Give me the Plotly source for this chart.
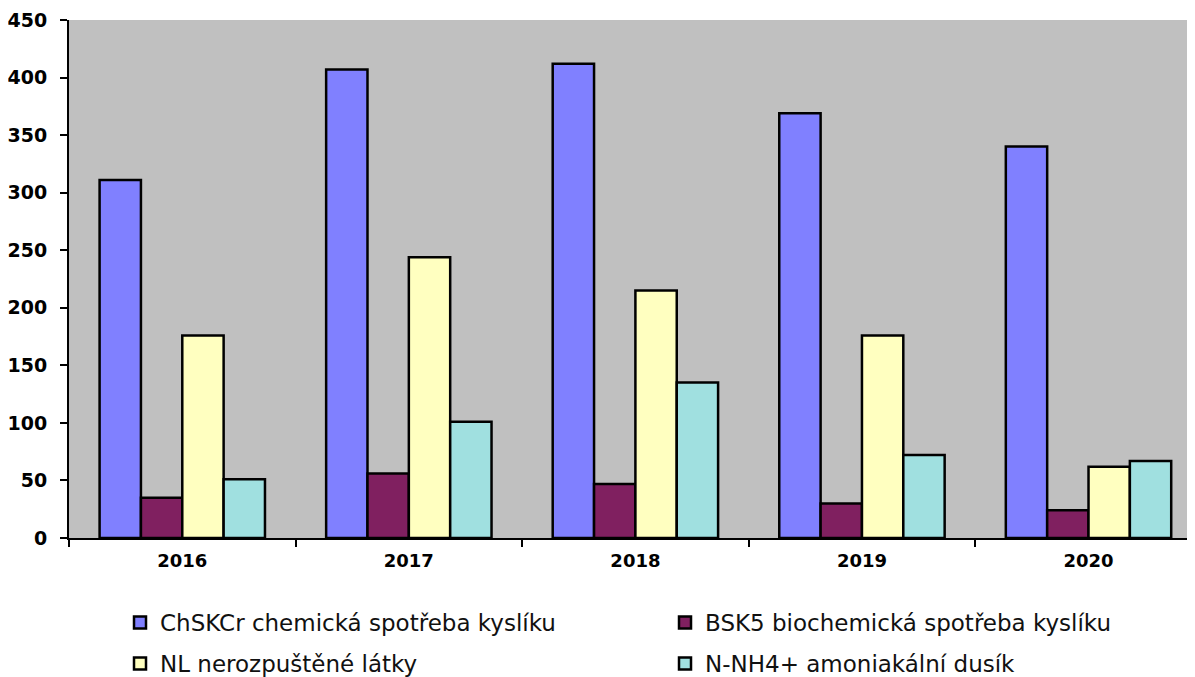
"""Water pollution indicators by year: grouped bar chart."""

import plotly.graph_objects as go

years = ["2016", "2017", "2018", "2019", "2020"]
chskcr = [311, 407, 412, 369, 340]
bsk5 = [35, 56, 47, 30, 24]
nl = [176, 244, 215, 176, 62]
nh4 = [51, 101, 135, 72, 67]

# name, values, colour, legend row
series = [
    ("ChSKCr chemická spotřeba kyslíku", chskcr, "#8080ff", "legend"),
    ("BSK5 biochemická spotřeba kyslíku", bsk5, "#802060", "legend"),
    ("NL nerozpuštěné látky", nl, "#ffffc0", "legend2"),
    ("N-NH4+ amoniakální dusík", nh4, "#a0e0e0", "legend2"),
]

FONT = "DejaVu Sans, Arial, sans-serif"

fig = go.Figure()
for name, values, color, leg in series:
    fig.add_trace(go.Bar(
        x=years,
        y=values,
        name=name,
        legend=leg,
        marker=dict(color=color, line=dict(color="black", width=2.5)),
    ))

legend_style = dict(
    orientation="h",
    x=0.0453,
    xanchor="left",
    yanchor="top",
    entrywidth=500,
    entrywidthmode="pixels",
    font=dict(size=23, family=FONT, color="#111111"),
    itemwidth=30,
    bgcolor="rgba(0,0,0,0)",
)

# page body adds an 8px offset, so margins are trimmed by 8
fig.update_layout(
    width=1187,
    height=669,
    margin=dict(l=61, r=0, t=12, b=139, autoexpand=False),
    paper_bgcolor="white",
    plot_bgcolor="#c0c0c0",
    barmode="group",
    bargap=0.27,
    bargroupgap=0,
    font=dict(family=FONT, color="black"),
    showlegend=True,
    legend=dict(legend_style, y=-0.1216),
    legend2=dict(legend_style, y=-0.2008),
    xaxis=dict(
        range=[-0.5, 4.47],
        automargin=False,
        tickson="boundaries",
        ticks="outside",
        ticklen=7,
        tickcolor="black",
        tickwidth=1.5,
        ticklabelstandoff=5,
        showline=True,
        linecolor="black",
        linewidth=2,
        showgrid=False,
        tickfont=dict(size=18, family=FONT, weight="bold"),
    ),
    yaxis=dict(
        range=[0, 450],
        dtick=50,
        automargin=False,
        ticks="outside",
        ticklen=7,
        tickcolor="black",
        tickwidth=1.5,
        ticklabelstandoff=9,
        showline=True,
        linecolor="black",
        linewidth=2,
        showgrid=False,
        zeroline=False,
        tickfont=dict(size=19, family=FONT, weight="bold"),
    ),
)

fig.write_html("out.html")
